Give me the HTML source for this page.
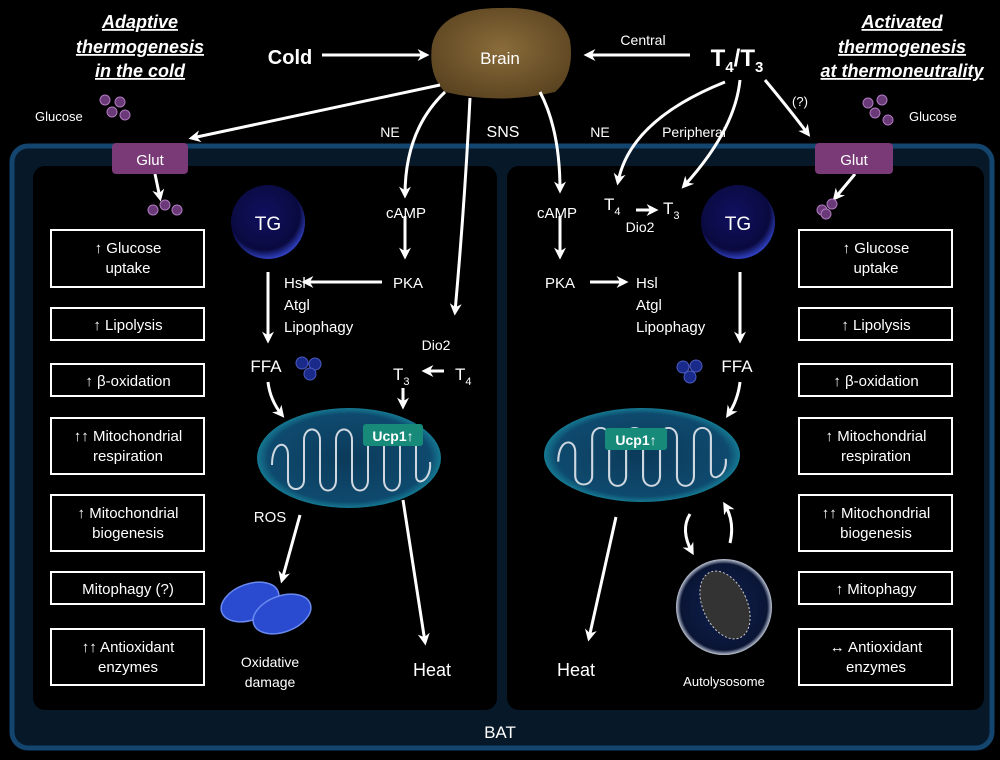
<!DOCTYPE html>
<html><head><meta charset="utf-8"><style>
body{margin:0;background:#000;}
svg{display:block;font-family:"Liberation Sans",sans-serif;}
</style></head><body>
<svg width="1000" height="760" viewBox="0 0 1000 760" xmlns="http://www.w3.org/2000/svg">
<defs>
<marker id="a" viewBox="0 0 10 10" refX="7" refY="5" markerWidth="4" markerHeight="4" orient="auto"><path d="M0,0 L10,5 L0,10 L3,5z" fill="#fff"/></marker>
<radialGradient id="brain" cx="50%" cy="45%" r="60%"><stop offset="0" stop-color="#8a6c3a"/><stop offset="1" stop-color="#5a4320"/></radialGradient>
<radialGradient id="tg" cx="45%" cy="40%" r="60%"><stop offset="0" stop-color="#101060"/><stop offset="0.8" stop-color="#0a0a40"/><stop offset="1" stop-color="#3040c0"/></radialGradient>
<radialGradient id="mito" cx="50%" cy="50%" r="55%"><stop offset="0" stop-color="#0c3a5a"/><stop offset="0.8" stop-color="#0e4a6e"/><stop offset="1" stop-color="#1aa0b0"/></radialGradient>
<radialGradient id="auto" cx="50%" cy="50%" r="50%"><stop offset="0" stop-color="#102050"/><stop offset="0.9" stop-color="#0a1535"/><stop offset="1" stop-color="#c0c8d8"/></radialGradient>
<path id="cr" d="M272,465 C272,440 288,440 288,455 L288,480 C288,492 304,492 304,480 L304,440 C304,426 320,426 320,440 L320,480 C320,494 336,494 336,480 L336,440 C336,426 352,426 352,440 L352,480 C352,494 368,494 368,480 L368,440 C368,426 384,426 384,440 L384,480 C384,494 400,494 400,480 L400,440 C400,426 416,426 416,440 L416,475 C416,488 432,480 430,462" fill="none" stroke="#cfd8e0" stroke-width="2"/>
</defs>
<rect width="1000" height="760" fill="#000"/>
<rect x="12" y="146" width="980" height="602" rx="16" fill="#071828" stroke="#13456e" stroke-width="5"/>
<rect x="33" y="166" width="464" height="544" rx="12" fill="#000"/>
<rect x="507" y="166" width="477" height="544" rx="12" fill="#000"/>
<text x="500" y="738" fill="#fff" font-size="17" text-anchor="middle">BAT</text>
<g fill="#fff" font-size="18" font-weight="bold" font-style="italic" text-anchor="middle" text-decoration="underline">
<text x="140" y="28">Adaptive</text><text x="140" y="53">thermogenesis</text><text x="140" y="77">in the cold</text>
<text x="902" y="28">Activated</text><text x="902" y="53">thermogenesis</text><text x="902" y="77">at thermoneutrality</text>
</g>
<path d="M432,45 Q440,8 500,8 Q560,6 570,40 Q575,75 555,92 Q500,105 445,92 Q428,75 432,45z" fill="url(#brain)"/>
<text x="500" y="64" fill="#fff" font-size="17" text-anchor="middle">Brain</text>
<text x="290" y="64" fill="#fff" font-size="20" font-weight="bold" text-anchor="middle">Cold</text>
<text x="737" y="66" fill="#fff" font-size="24" font-weight="bold" text-anchor="middle">T<tspan font-size="15" dy="6">4</tspan><tspan dy="-6">/T</tspan><tspan font-size="15" dy="6">3</tspan></text>
<text x="643" y="45" fill="#fff" font-size="14" text-anchor="middle">Central</text>
<text x="390" y="137" fill="#fff" font-size="14" text-anchor="middle">NE</text>
<text x="503" y="137" fill="#fff" font-size="16" text-anchor="middle">SNS</text>
<text x="600" y="137" fill="#fff" font-size="14" text-anchor="middle">NE</text>
<text x="694" y="137" fill="#fff" font-size="14" text-anchor="middle">Peripheral</text>
<text x="800" y="106" fill="#fff" font-size="13" text-anchor="middle">(?)</text>
<g stroke="#fff" stroke-width="3" fill="none" marker-end="url(#a)">
<path d="M322,55 L426,55"/>
<path d="M690,55 L587,55"/>
<path d="M440,85 L192,138"/>
<path d="M445,92 Q405,130 405,195"/>
<path d="M470,98 Q465,200 455,312"/>
<path d="M540,92 Q560,130 560,190"/>
<path d="M740,80 Q735,130 684,186"/>
<path d="M725,82 Q630,120 618,182"/>
<path d="M765,80 Q790,110 808,134"/>
<path d="M155,174 L160,198"/>
<path d="M405,216 L405,256"/>
<path d="M382,282 L305,282"/>
<path d="M268,272 L268,340"/>
<path d="M268,382 Q270,400 282,415"/>
<path d="M444,371 L425,371"/>
<path d="M403,388 L403,406"/>
<path d="M300,515 L282,580"/>
<path d="M403,500 L425,642"/>
<path d="M855,174 L835,198"/>
<path d="M560,216 L560,256"/>
<path d="M590,282 L625,282"/>
<path d="M636,210 L655,210"/>
<path d="M740,272 L740,340"/>
<path d="M740,382 Q738,400 728,415"/>
<path d="M616,517 L589,638"/>
<path d="M690,514 Q680,530 692,552"/>
<path d="M730,543 Q735,522 725,505"/>
</g>
<text x="35" y="121" fill="#fff" font-size="13">Glucose</text>
<text x="909" y="121" fill="#fff" font-size="13">Glucose</text>
<g fill="#6a3a78" stroke="#b07ac0" stroke-width="1">
<circle cx="105" cy="100" r="5"/><circle cx="120" cy="102" r="5"/><circle cx="112" cy="112" r="5"/><circle cx="125" cy="115" r="5"/>
<circle cx="153" cy="210" r="5"/><circle cx="165" cy="205" r="5"/><circle cx="177" cy="210" r="5"/>
<circle cx="868" cy="103" r="5"/><circle cx="882" cy="100" r="5"/><circle cx="875" cy="113" r="5"/><circle cx="888" cy="120" r="5"/>
<circle cx="822" cy="210" r="5"/><circle cx="832" cy="204" r="5"/><circle cx="826" cy="214" r="5"/>
</g>
<rect x="112" y="143" width="76" height="31" rx="4" fill="#7a3a78"/>
<text x="150" y="165" fill="#fff" font-size="15" text-anchor="middle">Glut</text>
<rect x="815" y="143" width="78" height="31" rx="4" fill="#7a3a78"/>
<text x="854" y="165" fill="#fff" font-size="15" text-anchor="middle">Glut</text>
<circle cx="268" cy="222" r="37" fill="url(#tg)"/>
<text x="268" y="230" fill="#fff" font-size="19" text-anchor="middle">TG</text>
<circle cx="738" cy="222" r="37" fill="url(#tg)"/>
<text x="738" y="230" fill="#fff" font-size="19" text-anchor="middle">TG</text>
<g fill="#fff" font-size="15">
<text x="406" y="218" text-anchor="middle">cAMP</text>
<text x="408" y="288" text-anchor="middle">PKA</text>
<text x="284" y="288">Hsl</text><text x="284" y="310">Atgl</text><text x="284" y="332">Lipophagy</text>
<text x="436" y="350" text-anchor="middle" font-size="14">Dio2</text>
<text x="393" y="380" font-size="17">T<tspan font-size="11" dy="5">3</tspan></text>
<text x="455" y="380" font-size="17">T<tspan font-size="11" dy="5">4</tspan></text>
<text x="266" y="372" text-anchor="middle" font-size="17">FFA</text>
<text x="270" y="522" text-anchor="middle">ROS</text>
<text x="270" y="667" text-anchor="middle" font-size="14">Oxidative</text>
<text x="270" y="687" text-anchor="middle" font-size="14">damage</text>
<text x="432" y="676" text-anchor="middle" font-size="18">Heat</text>
<text x="557" y="218" text-anchor="middle">cAMP</text>
<text x="560" y="288" text-anchor="middle">PKA</text>
<text x="636" y="288">Hsl</text><text x="636" y="310">Atgl</text><text x="636" y="332">Lipophagy</text>
<text x="604" y="210" font-size="17">T<tspan font-size="11" dy="5">4</tspan></text>
<text x="663" y="214" font-size="17">T<tspan font-size="11" dy="5">3</tspan></text>
<text x="640" y="232" text-anchor="middle" font-size="14">Dio2</text>
<text x="737" y="372" text-anchor="middle" font-size="17">FFA</text>
<text x="576" y="676" text-anchor="middle" font-size="18">Heat</text>
<text x="724" y="686" text-anchor="middle" font-size="13">Autolysosome</text>
</g>
<g fill="#1a2a8a" stroke="#4a5ac0">
<circle cx="302" cy="363" r="6"/><circle cx="315" cy="364" r="6"/><circle cx="310" cy="374" r="6"/>
<circle cx="683" cy="367" r="6"/><circle cx="696" cy="366" r="6"/><circle cx="690" cy="377" r="6"/>
</g>
<ellipse cx="349" cy="458" rx="92" ry="50" fill="url(#mito)"/>
<use href="#cr"/>
<rect x="363" y="424" width="60" height="22" rx="3" fill="#178a7a"/>
<text x="393" y="441" fill="#fff" font-size="14" font-weight="bold" text-anchor="middle">Ucp1↑</text>
<ellipse cx="642" cy="455" rx="98" ry="47" fill="url(#mito)"/>
<use href="#cr" transform="translate(642,455) scale(1.06,0.95) translate(-351,-458)"/>
<rect x="605" y="428" width="62" height="22" rx="3" fill="#178a7a"/>
<text x="636" y="445" fill="#fff" font-size="14" font-weight="bold" text-anchor="middle">Ucp1↑</text>
<g fill="#2a4ad0" stroke="#6a8af0" stroke-width="1.5">
<ellipse cx="250" cy="602" rx="30" ry="18" transform="rotate(-20 250 602)"/>
<ellipse cx="282" cy="614" rx="30" ry="18" transform="rotate(-20 282 614)"/>
</g>
<circle cx="724" cy="607" r="48" fill="url(#auto)"/>
<ellipse cx="725" cy="605" rx="22" ry="36" transform="rotate(-25 725 605)" fill="#333" stroke="#ccc" stroke-dasharray="2 2"/>
<g fill="none" stroke="#fff" stroke-width="2">
<rect x="51" y="230" width="153" height="57"/><rect x="51" y="308" width="153" height="32"/>
<rect x="51" y="364" width="153" height="32"/><rect x="51" y="418" width="153" height="56"/>
<rect x="51" y="495" width="153" height="56"/><rect x="51" y="572" width="153" height="32"/>
<rect x="51" y="629" width="153" height="56"/>
<rect x="799" y="230" width="153" height="57"/><rect x="799" y="308" width="153" height="32"/>
<rect x="799" y="364" width="153" height="32"/><rect x="799" y="418" width="153" height="56"/>
<rect x="799" y="495" width="153" height="56"/><rect x="799" y="572" width="153" height="32"/>
<rect x="799" y="629" width="153" height="56"/>
</g>
<g fill="#fff" font-size="15" text-anchor="middle">
<text x="128" y="253">↑ Glucose</text><text x="128" y="273">uptake</text>
<text x="128" y="330">↑ Lipolysis</text>
<text x="128" y="386">↑ β-oxidation</text>
<text x="128" y="441">↑↑ Mitochondrial</text><text x="128" y="461">respiration</text>
<text x="128" y="518">↑ Mitochondrial</text><text x="128" y="538">biogenesis</text>
<text x="128" y="594">Mitophagy (?)</text>
<text x="128" y="652">↑↑ Antioxidant</text><text x="128" y="672">enzymes</text>
<text x="876" y="253">↑ Glucose</text><text x="876" y="273">uptake</text>
<text x="876" y="330">↑ Lipolysis</text>
<text x="876" y="386">↑ β-oxidation</text>
<text x="876" y="441">↑ Mitochondrial</text><text x="876" y="461">respiration</text>
<text x="876" y="518">↑↑ Mitochondrial</text><text x="876" y="538">biogenesis</text>
<text x="876" y="594">↑ Mitophagy</text>
<text x="876" y="652">↔ Antioxidant</text><text x="876" y="672">enzymes</text>
</g>
</svg>
</body></html>
